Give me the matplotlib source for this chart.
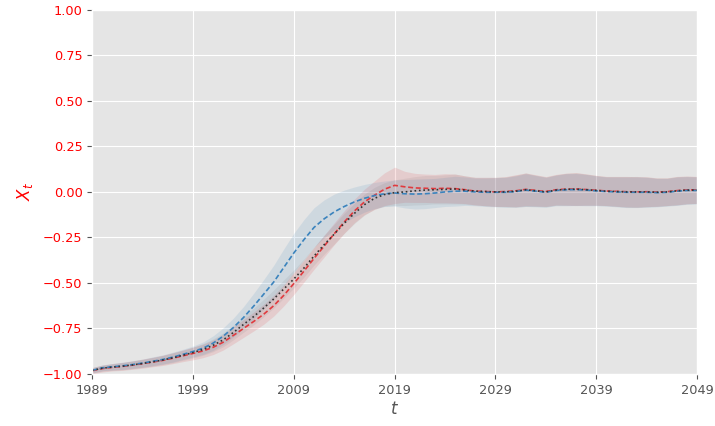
#!/usr/bin/env python3
"""Recreate the X_t trajectory comparison plot (three estimates with bands)."""

import numpy as np
import matplotlib
matplotlib.use("Agg")
import matplotlib.pyplot as plt

years = list(range(1989, 2050))

# black dotted series (reference trajectory)
x_ref = [
    -0.980, -0.968, -0.962, -0.957, -0.950, -0.942, -0.933, -0.923, -0.911, -0.897,
    -0.882, -0.865, -0.842, -0.812, -0.772, -0.728, -0.685, -0.638, -0.588, -0.533,
    -0.478, -0.418, -0.352, -0.290, -0.232, -0.172, -0.118, -0.070, -0.035, -0.014,
    -0.004, 0.000, 0.006, 0.010, 0.012, 0.014, 0.016, 0.010, 0.004, 0.002,
    0.000, 0.000, 0.004, 0.012, 0.006, 0.000, 0.010, 0.014, 0.015, 0.012,
    0.008, 0.004, 0.002, 0.000, 0.000, 0.000, -0.002, 0.000, 0.006, 0.010,
    0.010,
]
# red dashed series
x_red = [
    -0.982, -0.970, -0.963, -0.958, -0.951, -0.943, -0.934, -0.925, -0.913, -0.900,
    -0.887, -0.873, -0.853, -0.825, -0.788, -0.750, -0.712, -0.672, -0.625, -0.568,
    -0.503, -0.435, -0.365, -0.298, -0.230, -0.165, -0.105, -0.055, -0.018, 0.015,
    0.036, 0.028, 0.022, 0.020, 0.018, 0.020, 0.018, 0.012, 0.004, 0.002,
    0.000, 0.002, 0.006, 0.014, 0.008, 0.002, 0.012, 0.015, 0.016, 0.013,
    0.009, 0.005, 0.003, 0.001, 0.000, 0.001, -0.001, 0.001, 0.007, 0.011,
    0.011,
]
# blue dashed series
x_blue = [
    -0.980, -0.966, -0.960, -0.955, -0.948, -0.940, -0.930, -0.920, -0.907, -0.892,
    -0.876, -0.858, -0.830, -0.792, -0.745, -0.690, -0.628, -0.562, -0.495, -0.415,
    -0.335, -0.262, -0.195, -0.148, -0.110, -0.080, -0.055, -0.035, -0.020, -0.010,
    -0.006, -0.010, -0.012, -0.010, -0.006, 0.000, 0.004, 0.004, 0.000, -0.002,
    -0.002, -0.002, 0.002, 0.010, 0.004, -0.002, 0.008, 0.012, 0.013, 0.010,
    0.006, 0.002, 0.000, -0.002, -0.002, -0.002, -0.004, -0.002, 0.004, 0.008,
    0.008,
]

# band half widths
w_ref = [
    0.015, 0.016, 0.018, 0.020, 0.021, 0.022, 0.024, 0.025, 0.027, 0.028,
    0.030, 0.032, 0.035, 0.038, 0.040, 0.043, 0.046, 0.048, 0.050, 0.050,
    0.050, 0.050, 0.050, 0.052, 0.054, 0.055, 0.056, 0.058, 0.060, 0.065,
    0.070, 0.075, 0.078, 0.080, 0.078, 0.080, 0.082, 0.078, 0.076, 0.078,
    0.080, 0.082, 0.088, 0.092, 0.086, 0.082, 0.084, 0.088, 0.090, 0.086,
    0.082, 0.080, 0.082, 0.084, 0.085, 0.082, 0.078, 0.076, 0.078, 0.076,
    0.074,
]
w_red = [
    0.018, 0.019, 0.020, 0.022, 0.023, 0.025, 0.026, 0.028, 0.030, 0.032,
    0.035, 0.037, 0.040, 0.043, 0.046, 0.049, 0.052, 0.055, 0.057, 0.058,
    0.060, 0.060, 0.060, 0.060, 0.060, 0.062, 0.065, 0.070, 0.078, 0.090,
    0.100, 0.085, 0.080, 0.078, 0.078, 0.080, 0.080, 0.076, 0.076, 0.078,
    0.080, 0.082, 0.088, 0.090, 0.086, 0.082, 0.084, 0.088, 0.090, 0.086,
    0.082, 0.080, 0.082, 0.084, 0.084, 0.082, 0.078, 0.076, 0.078, 0.076,
    0.074,
]
w_blue = [
    0.015, 0.016, 0.018, 0.020, 0.021, 0.022, 0.024, 0.025, 0.027, 0.028,
    0.030, 0.034, 0.040, 0.046, 0.052, 0.060, 0.070, 0.080, 0.092, 0.102,
    0.108, 0.110, 0.108, 0.104, 0.098, 0.090, 0.082, 0.076, 0.072, 0.070,
    0.072, 0.078, 0.082, 0.082, 0.080, 0.080, 0.082, 0.078, 0.076, 0.078,
    0.080, 0.082, 0.086, 0.090, 0.086, 0.082, 0.084, 0.088, 0.088, 0.086,
    0.082, 0.080, 0.082, 0.084, 0.084, 0.082, 0.078, 0.076, 0.078, 0.076,
    0.074,
]

RED = "#e03a3e"
BLUE = "#3a83bd"

plt.style.use("ggplot")
fig = plt.figure(figsize=(7.15, 4.26), dpi=100)
ax = fig.add_axes([0.129, 0.122, 0.846, 0.855])

t = np.array(years)
for mean, w, col, a in [
    (x_red, w_red, RED, 0.14),
    (x_blue, w_blue, BLUE, 0.13),
    (x_ref, w_ref, "k", 0.05),
]:
    m = np.array(mean)
    hw = np.array(w)
    ax.fill_between(t, m - hw, m + hw, color=col, alpha=a, lw=0)

ax.plot(t, x_red, color=RED, ls="--", lw=1.2, dashes=(3, 1.6))
ax.plot(t, x_blue, color=BLUE, ls="--", lw=1.2, dashes=(3, 1.6))
ax.plot(t, x_ref, color="#333333", ls=":", lw=1.2)

ax.set_xlim(1989, 2049)
ax.set_ylim(-1.0, 1.0)
ax.set_xticks(range(1989, 2050, 10))
ax.set_yticks(np.arange(-1.0, 1.01, 0.25))
ax.tick_params(axis="both", labelsize=9.3)
ax.tick_params(axis="y", labelcolor="red")
ax.set_xlabel("$t$", fontsize=12, color="#555555", labelpad=2)
ax.set_ylabel("$X_t$", fontsize=12, color="red", labelpad=6)

fig.savefig("out.png", dpi=100)
